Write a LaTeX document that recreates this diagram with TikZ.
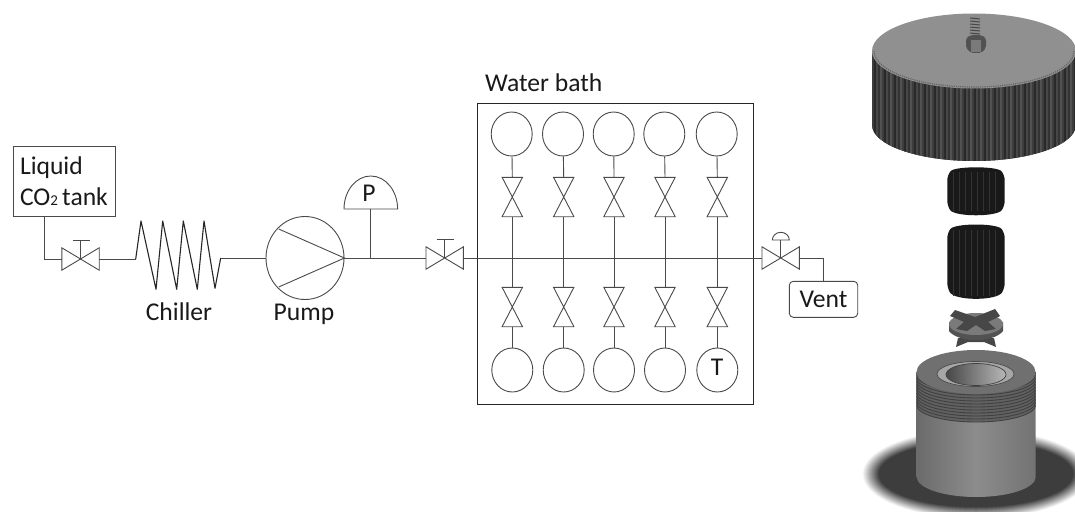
\documentclass[tikz,border=0pt]{standalone}
\usepackage{fontspec}
\setmainfont{Carlito}
\usetikzlibrary{shapes.geometric, calc, positioning}

\definecolor{pipeline}{HTML}{4A4A4A}
\definecolor{lidtop}{HTML}{909090}
\definecolor{liddark}{HTML}{3A3A3A}

\tikzset{
  pipe/.style={draw=pipeline, line width=0.9pt},
  flask/.style={draw=pipeline, line width=0.9pt, ellipse, inner sep=0pt, minimum width=41pt, minimum height=44pt},
  valvehoriz/.style={inner sep=0pt, minimum width=37pt, minimum height=22pt},
  valvevert/.style={inner sep=0pt, minimum width=20pt, minimum height=39pt},
  lbl/.style={inner sep=0pt, font=\fontsize{25.6}{31.3}\selectfont, text=black!90}
}

% vẽ van nằm ngang và van thẳng đứng
\newcommand{\valveh}[1]{\draw[pipe] (#1.south west) -- (#1.north east) -- (#1.south east) -- (#1.north west) -- cycle;}
\newcommand{\valvev}[1]{\draw[pipe] (#1.north west) -- (#1.north east) -- (#1.south west) -- (#1.south east) -- cycle;}

\begin{document}
\begin{tikzpicture}[x=1pt, y=-1pt]
        \useasboundingbox (0,0) rectangle (1075,511);

        % Bình CO2 và van đầu vào
        \node[draw=pipeline, line width=0.9pt, lbl, minimum width=102pt, minimum height=70pt, align=left, text width=88pt] (tank) at (64,181) {Liquid\\CO{\fontsize{15}{15}\selectfont 2}\,tank};
        \node[valvehoriz] (vtank) at (80.5,259) {};
        \valveh{vtank}
        \coordinate (vtanktop) at (80.5,240.7);
        \draw[pipe] (vtank.center) -- (vtanktop); % thân van
        \draw[pipe] (73,240.7) -- (90,240.7);
        \coordinate (tankout) at (44.5,216);
        \draw[pipe] (tankout) |- (vtank.west);

        % Bộ làm lạnh
        \coordinate (chillin) at (135.7,259);
        \coordinate (chillout) at (220.7,258);
        \draw[pipe] (vtank.east) -- (chillin);
        \draw[draw=black!85, line width=1.1pt, line join=round] (chillin) -- (141,221) -- (156,289.3) -- (162.7,221) -- (176.7,289.3) -- (183.3,221) -- (197.3,289.3) -- (204,221) -- (215,288.3) -- (chillout);
        \node[lbl, anchor=base] (chilltxt) at (179,320) {Chiller};

        % Bơm
        \node[pipe, ellipse, inner sep=0pt, minimum width=78pt, minimum height=83pt] (pump) at (305,258) {};
        \draw[pipe] (chillout) -- (pump.west);
        \draw[pipe] (278.7,229) -- (pump.east) -- (278.7,287);
        \node[lbl, anchor=base] (pumptxt) at (304,320) {Pump};

        % Đồng hồ áp suất
        \coordinate (gaugebase) at (370.5,209);
        \coordinate (tee) at (370.5,258);
        \draw[pipe] (344,209) arc[start angle=180, end angle=0, x radius=26.8pt, y radius=33pt] -- cycle;
        \node[lbl, anchor=base] (gauge) at (369,201) {P};
        \draw[pipe] (gaugebase) -- (tee);

        % Van trước bể
        \node[valvehoriz] (vbath) at (444.7,258) {};
        \valveh{vbath}
        \draw[pipe] (vbath.center) -- (444.7,239.3);
        \draw[pipe] (436.7,239.3) -- (454,239.3);
        \draw[pipe] (pump.east) -- (vbath.west);

        % Bể nước
        \node[draw=black!85, line width=1.1pt, inner sep=0pt, minimum width=275.7pt, minimum height=301.3pt] (bath) at (615.2,253.7) {};
        \node[lbl, anchor=base west] (bathtxt) at (485,91) {Water bath};

        % Van xả
        \node[valvehoriz] (vvent) at (780.7,258) {};
        \valveh{vvent}
        \draw[pipe] (vvent.center) -- (780.7,240);
        \draw[pipe] (772.3,240) arc[start angle=180, end angle=0, x radius=8.5pt, y radius=7.7pt] -- cycle;
        \draw[pipe] (vbath.east) -- (vvent.west);
        \node[draw=pipeline, line width=0.9pt, lbl, rounded corners=4pt, minimum width=68.4pt, minimum height=36pt] (vent) at (823.5,299.3) {Vent};
        \draw[pipe] (vvent.east) -| (vent.north);

        % Năm nhánh trong bể
        \foreach \i/\xt/\xb in {1/511.7/512.3, 2/563/563.7, 3/613.7/614, 4/664.3/665, 5/716.7/717.3} {
            \node[flask] (top\i) at (\xt,134) {};
            \node[flask] (bot\i) at (\xb,370) {};
            \node[valvevert] (vup\i) at (\xb,197) {};
            \node[valvevert] (vlo\i) at (\xb,307) {};
            \valvev{vup\i}
            \valvev{vlo\i}
            \draw[pipe] (top\i) -- (vup\i.north);
            \draw[pipe] (vup\i.south) -- (vlo\i.north);
            \draw[pipe] (vlo\i.south) -- (bot\i);
        }
        \node[lbl, anchor=base] (temp) at (717,375.7) {T};

        % Nắp
        \fill[liddark] (872,51) -- (872,125) arc[start angle=180, end angle=360, x radius=102pt, y radius=36pt] -- (1076,51) -- cycle;
        \begin{scope}
            \clip (872,51) -- (872,125) arc[start angle=180, end angle=360, x radius=102pt, y radius=36pt] -- (1076,51) -- cycle;
            \foreach \sx [count=\n] in {873,875,...,1076} {
                \pgfmathsetmacro{\grey}{mod(\n*7,5)*4+68}
                \draw[black!\grey, line width=1.2pt] (\sx,40) -- (\sx,170);
            }
        \end{scope}
        \fill[lidtop] (974,51) ellipse [x radius=102, y radius=37.5];
        \draw[black!60, line width=1.2pt, densely dotted] (874,51) arc[start angle=180, end angle=360, x radius=100pt, y radius=36pt];

        % Bu lông trên nắp
        \fill[black!45, rounded corners=1pt] (970,15) rectangle (980,35);
        \foreach \ty in {18,21,...,33} {
            \draw[black!72, line width=1pt] (970,\ty) -- (980,\ty+1);
        }
        \fill[black!68, rounded corners=2pt] (966,38) -- (971,35) -- (981,35) -- (986,38) -- (986,48) -- (981,53) -- (971,53) -- (966,48) -- cycle;
        \fill[black!52] (971,40) rectangle (981,52);

        % Hai vòng đệm
        \fill[black!90, rounded corners=5pt] (947.3,175) .. controls (955,166) and (997,166) .. (1004.7,175) -- (1004.7,206) .. controls (997,217) and (955,217) .. (947.3,206) -- cycle;
        \fill[black!90, rounded corners=5pt] (947.3,233) .. controls (955,223) and (997,223) .. (1004.7,233) -- (1004.7,288) .. controls (997,301) and (955,301) .. (947.3,288) -- cycle;
        \foreach \sx in {953,959,...,1000} {
            \draw[black!80, line width=0.8pt] (\sx,172) -- (\sx,211);
            \draw[black!80, line width=0.8pt] (\sx,230) -- (\sx,296);
        }

        % Bóng đổ và thân trụ
        \foreach \k in {0,...,24} {
            \pgfmathsetmacro{\grey}{\k*76/24}
            \fill[black!\grey] (976,474) ellipse [x radius={114-\k*0.7}, y radius={45-\k*0.5}];
        }
        \shade[left color=black!58, right color=black!55, middle color=black!45] (916.7,372) -- (916.7,477) arc[start angle=180, end angle=360, x radius=59.5pt, y radius=20pt] -- (1035.7,372) -- cycle;
        \begin{scope}
            \clip (916.7,372) -- (916.7,477) arc[start angle=180, end angle=360, x radius=59.5pt, y radius=20pt] -- (1035.7,372) -- cycle;
            \fill[black!62] (916.7,372) -- (916.7,405) arc[start angle=180, end angle=360, x radius=59.5pt, y radius=17pt] -- (1035.7,372) -- cycle;
            \foreach \ty in {372,375,...,405} {
                \draw[black!75, line width=0.9pt] (916.7,\ty) arc[start angle=180, end angle=360, x radius=59.5pt, y radius=17pt];
            }
        \end{scope}
        \fill[black!56] (976,372) ellipse [x radius=59.5, y radius=22];
        \fill[black!35] (975.5,374) ellipse [x radius=38.5, y radius=12.5];
        \draw[black!70, line width=0.7pt] (975.5,374) ellipse [x radius=38.5, y radius=12.5];
        \shade[left color=black!72, right color=black!28] (976,374.5) ellipse [x radius=30, y radius=11];
        \draw[black!75, line width=0.7pt] (976,374.5) ellipse [x radius=30, y radius=11];

        % Chữ thập
        \fill[black!72] (958,338) -- (956,347) -- (968,342) -- (984,342) -- (996,347) -- (994,338) -- cycle;
        \fill[black!68] (949,322) -- (949,331) .. controls (958,343) and (994,343) .. (1003,331) -- (1003,322) -- cycle;
        \fill[black!52] (976,324) ellipse [x radius=27, y radius=11];
        \fill[black!72, line join=round] (955,310) -- (975,317) -- (995,309) -- (1000,316) -- (988,322) -- (996,329) -- (985,331) -- (976,325) -- (967,331) -- (956,329) -- (964,322) -- (950,316) -- cycle;

\end{tikzpicture}
\end{document}
